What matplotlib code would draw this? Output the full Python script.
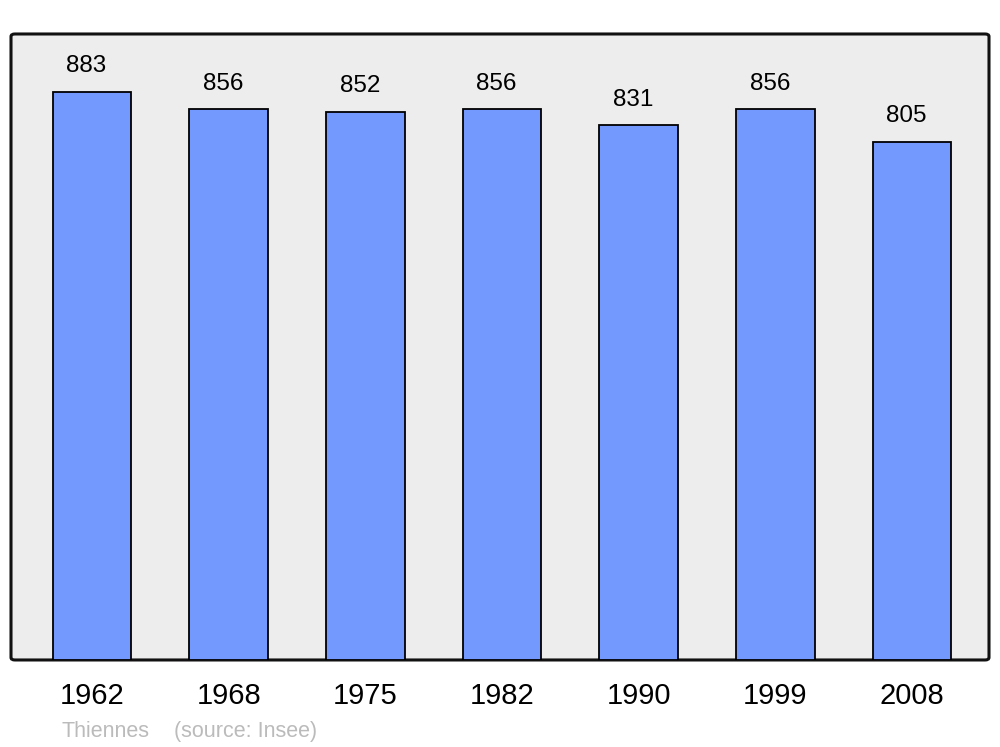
import matplotlib
matplotlib.use("Agg")
import matplotlib.pyplot as plt
from matplotlib.patches import FancyBboxPatch

plt.rcParams["font.family"] = ["Liberation Sans", "DejaVu Sans"]

years = ["1962", "1968", "1975", "1982", "1990", "1999", "2008"]
population = [883, 856, 852, 856, 831, 856, 805]
commune = "Thiennes"
source = "(source: Insee)"

BAR_COLOR = "#7399ff"
BG_COLOR = "#ededed"

fig = plt.figure(figsize=(10, 7.47), dpi=100)
ax = fig.add_axes([0.011, 0.1165, 0.978, 0.838])
ax.set_facecolor("none")
for s in ax.spines.values():
    s.set_visible(False)

# rounded background frame
frame = FancyBboxPatch((0, 0), 1, 1, boxstyle="round,pad=0,rounding_size=0.004",
                       transform=ax.transAxes, facecolor=BG_COLOR,
                       edgecolor="#111111", lw=2.2, clip_on=False, zorder=0)
ax.add_patch(frame)

x = list(range(len(years)))
ax.bar(x, population, width=0.575, color=BAR_COLOR, edgecolor="black",
       lw=1.3, zorder=2)

for xi, v in zip(x, population):
    ax.annotate(str(v), (xi, v), xytext=(-4, 10.5), textcoords="offset points",
                ha="center", va="bottom", fontsize=17.5, color="black")

ax.set_xlim(-0.593, 6.563)
ax.set_ylim(0, 973)
ax.set_yticks([])
ax.set_xticks(x)
ax.set_xticklabels(years, fontsize=21)
ax.tick_params(axis="x", length=0, pad=16)

fig.text(0.061, 0.0205, commune, fontsize=15.5,
         color="#bbbbbb", ha="left", va="center")
fig.text(0.174, 0.0205, source, fontsize=15.5,
         color="#bbbbbb", ha="left", va="center")

fig.savefig("out.png", dpi=100)
